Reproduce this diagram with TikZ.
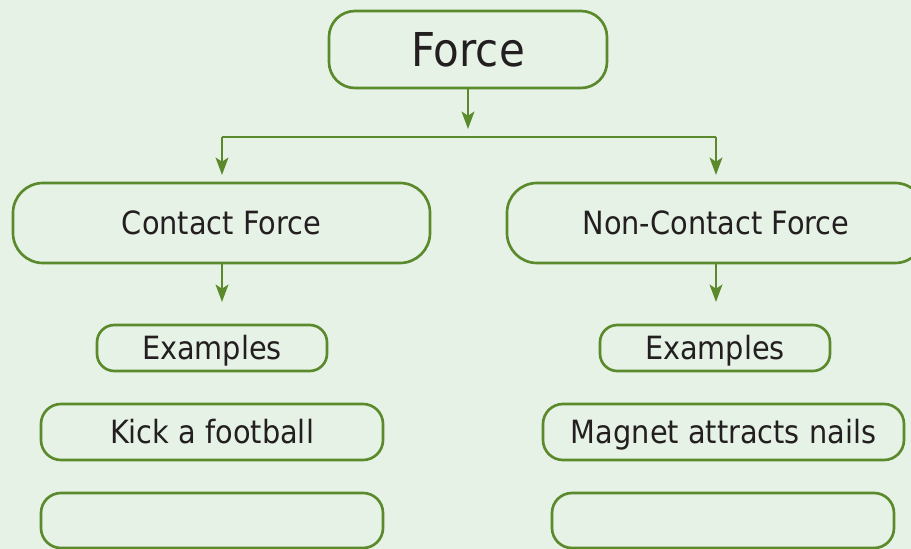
\documentclass[tikz,border=0pt]{standalone}
\usepackage{fontspec}
\setmainfont{DejaVu Sans}[FakeStretch=0.9]
\usetikzlibrary{arrows.meta}
\definecolor{bgc}{RGB}{230,242,230}
\definecolor{gr}{RGB}{90,138,44}
\definecolor{txt}{RGB}{35,31,32}
\tikzset{
  box/.style={draw=gr, line width=2pt, rectangle, inner sep=0pt, text=txt,
    text height=17.5pt, text depth=0pt, font=\fontsize{24}{28}\selectfont},
  conn/.style={draw=gr, line width=2pt},
  arr/.style={conn, -{Stealth[length=13pt,width=9.5pt,inset=3pt]}}
}
\begin{document}
\begin{tikzpicture}[x=0.75pt,y=-0.75pt]
\fill[bgc] (0,0) rectangle (911,549);
\useasboundingbox (0,0) rectangle (911,549);
\clip (0,0) rectangle (911,549);
\node[box, minimum width=208.5pt, minimum height=57.75pt, rounded corners=19.5pt,
  font=\fontsize{35}{40}\selectfont, text height=25.5pt] (force) at (468,49.5) {Force};
\node[box, minimum width=312.75pt, minimum height=60pt, rounded corners=22.5pt] (contact) at (221.5,223) {Contact Force};
\node[box, minimum width=313.5pt, minimum height=60pt, rounded corners=22.5pt] (noncontact) at (716,223) {Non-Contact Force};
\node[box, minimum width=172.5pt, minimum height=34.5pt, rounded corners=13pt] (exL) at (212,348) {Examples};
\node[box, minimum width=172.5pt, minimum height=34.5pt, rounded corners=13pt] (exR) at (715,348) {Examples};
\node[box, minimum width=256.5pt, minimum height=42pt, rounded corners=15pt] (kick) at (212,432) {Kick a football};
\node[box, minimum width=270.75pt, minimum height=42pt, rounded corners=15pt] (magnet) at (723.5,432) {Magnet attracts nails};
\node[box, minimum width=256.5pt, minimum height=41.25pt, rounded corners=15pt] (emptyL) at (212,520.5) {};
\node[box, minimum width=256.5pt, minimum height=41.25pt, rounded corners=15pt] (emptyR) at (723,520.5) {};
\coordinate (ftip) at (468,129);
\coordinate (hl) at (222,137);
\coordinate (hr) at (716,137);
\coordinate (ctip) at (222,175);
\coordinate (ntip) at (716,175);
\coordinate (cbtip) at (222,302);
\coordinate (nbtip) at (716,302);
\draw[arr] (force.south) -- (ftip);
\draw[conn] (hl) -- (hr);
\draw[arr] (hl) -- (ctip);
\draw[arr] (hr) -- (ntip);
\draw[arr] (contact.south -| cbtip) -- (cbtip);
\draw[arr] (noncontact.south -| nbtip) -- (nbtip);
\end{tikzpicture}
\end{document}
